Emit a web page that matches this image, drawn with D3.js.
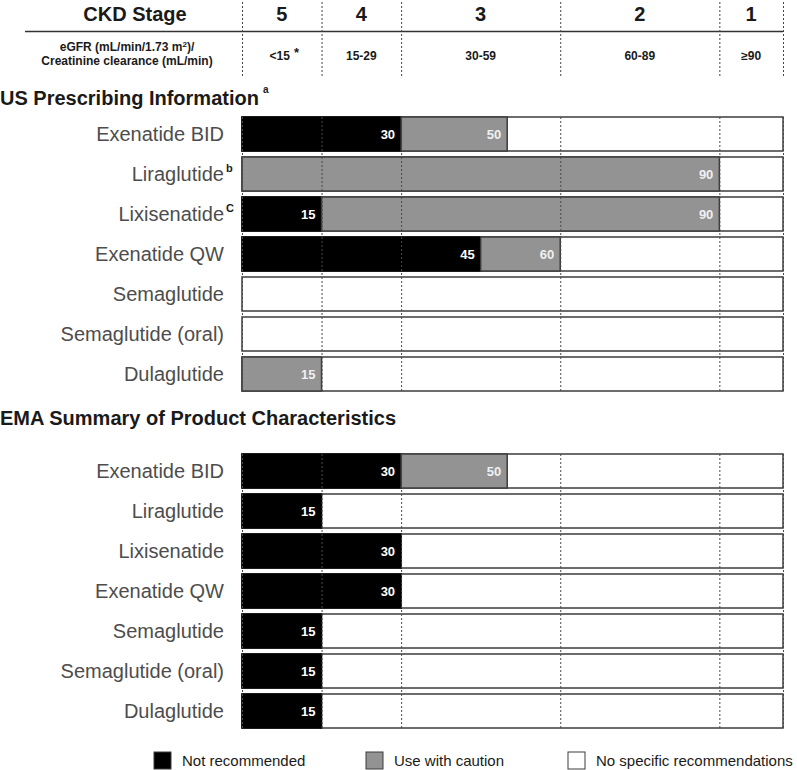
<!DOCTYPE html>
<html>
<head>
<meta charset="utf-8">
<script src="https://cdn.jsdelivr.net/npm/d3@7"></script>
<style>
  body { margin: 0; background: #fff; }
  svg { display: block; font-family: "Liberation Sans", Arial, sans-serif; }
</style>
</head>
<body>
<svg id="chart" width="797" height="770"></svg>
<script>
// ---------- data ----------
const drugs = ["Exenatide BID", "Liraglutide", "Lixisenatide", "Exenatide QW", "Semaglutide", "Semaglutide (oral)", "Dulaglutide"];
const usSuperscripts = ["", "b", "C", "", "", "", ""];
const usNotRecommended = [30, 0, 15, 45, 0, 0, 0];      // upper bound of "Not recommended"
const usCaution = [50, 90, 90, 60, 0, 0, 15];            // upper bound of "Use with caution"
const emaNotRecommended = [30, 15, 30, 30, 15, 15, 15];
const emaCaution = [50, 0, 0, 0, 0, 0, 0];
const stageBounds = [0, 15, 30, 60, 90, 102];
const stageLabels = ["5", "4", "3", "2", "1"];
const stageRanges = ["<15", "15-29", "30-59", "60-89", "≥90"];
const legendLabels = ["Not recommended", "Use with caution", "No specific recommendations"];
const sectionTitles = ["US Prescribing Information", "EMA Summary of Product Characteristics"];

// ---------- styles ----------
const BLACK = "#000000", GRAY = "#939393", WHITE = "#ffffff", OUTLINE = "#3c3c3c";
const legendColors = [BLACK, GRAY, WHITE];

const svg = d3.select("#chart");
const x = d3.scaleLinear().domain([0, 102]).range([242, 783]);

// ---------- header ----------
svg.append("text").attr("x", 135).attr("y", 21).attr("text-anchor", "middle")
  .attr("font-size", 20).attr("font-weight", "bold").attr("fill", "#1a1a1a").text("CKD Stage");

svg.append("line").attr("x1", 25).attr("x2", x(102)).attr("y1", 31.5).attr("y2", 31.5)
  .attr("stroke", "#333").attr("stroke-width", 1.5);

const sub = svg.append("text").attr("text-anchor", "middle").attr("font-size", 12)
  .attr("font-weight", "bold").attr("fill", "#1a1a1a");
const l1 = sub.append("tspan").attr("x", 127).attr("y", 51);
l1.append("tspan").text("eGFR (mL/min/1.73 m");
l1.append("tspan").attr("font-size", 8).attr("dy", -4).text("2");
l1.append("tspan").attr("dy", 4).text(")/");
sub.append("tspan").attr("x", 127).attr("y", 65).text("Creatinine clearance (mL/min)");

stageLabels.forEach((s, i) => {
  const cx = (x(stageBounds[i]) + x(stageBounds[i + 1])) / 2;
  svg.append("text").attr("x", cx).attr("y", 21).attr("text-anchor", "middle")
    .attr("font-size", 20).attr("font-weight", "bold").attr("fill", "#1a1a1a").text(s);
  svg.append("text").attr("x", i === 0 ? cx - 2 : cx).attr("y", 60).attr("text-anchor", "middle")
    .attr("font-size", 12).attr("font-weight", "bold").attr("fill", "#1a1a1a").text(stageRanges[i]);
});
// asterisk after <15
svg.append("text").attr("x", 294).attr("y", 57).attr("font-size", 13)
  .attr("font-weight", "bold").attr("fill", "#1a1a1a").text("*");

// header dashed lines
const headerAxis = d3.axisBottom(x).tickValues(stageBounds).tickSize(-76).tickFormat("");
const hg = svg.append("g").attr("transform", "translate(0,76)").call(headerAxis);
hg.select(".domain").remove();
hg.selectAll(".tick line").attr("stroke", "#444").attr("stroke-dasharray", "2,2");

// ---------- sections ----------
function drawSection(top, title, titleY, notRec, caution, sups, titleSup) {
  const t = svg.append("text").attr("x", 0).attr("y", titleY).attr("font-size", 20)
    .attr("font-weight", "bold").attr("fill", "#1a1a1a").text(title);
  if (titleSup) {
    const bb = t.node().getBBox();
    svg.append("text").attr("x", bb.x + bb.width + 4).attr("y", titleY - 12)
      .attr("font-size", 10).attr("font-weight", "bold").attr("fill", "#1a1a1a").text(titleSup);
  }
  const y = d3.scaleBand().domain(drugs).range([top, top + 274]).paddingInner(0.15).paddingOuter(0);
  const g = svg.append("g");

  drugs.forEach((d, i) => {
    const y0 = y(d), h = y.bandwidth();
    // full row (no specific recommendations)
    g.append("rect").attr("x", x(0)).attr("y", y0).attr("width", x(102) - x(0)).attr("height", h)
      .attr("fill", WHITE).attr("stroke", OUTLINE).attr("stroke-width", 1.5);
    const segs = [];
    if (notRec[i] > 0) segs.push({ a: 0, b: notRec[i], fill: BLACK });
    if (caution[i] > 0) segs.push({ a: notRec[i], b: caution[i], fill: GRAY });
    segs.forEach(s => {
      g.append("rect").attr("x", x(s.a)).attr("y", y0).attr("width", x(s.b) - x(s.a)).attr("height", h)
        .attr("fill", s.fill).attr("stroke", s.fill === BLACK ? BLACK : OUTLINE).attr("stroke-width", 1.5);
    });
    // label
    svg.append("text").attr("x", 224).attr("y", y0 + h / 2 + 7).attr("text-anchor", "end")
      .attr("font-size", 20).attr("fill", "#4d4d4d").text(d);
    if (sups && sups[i]) {
      svg.append("text").attr("x", 226).attr("y", y0 + 15).attr("font-size", 11)
        .attr("font-weight", "bold").attr("fill", "#1a1a1a").text(sups[i]);
    }
    segs.forEach(s => {
      valueTexts.push({ x: x(s.b) - 6, y: y0 + h / 2 + 4.5, v: s.b, gray: s.fill === GRAY });
    });
  });

  const gridAxis = d3.axisBottom(x).tickValues(stageBounds).tickSize(-274).tickFormat("");
  const gg = svg.append("g").attr("transform", `translate(0,${top + 274})`).call(gridAxis);
  gg.select(".domain").remove();
  gg.selectAll(".tick line").attr("stroke", "#4a4a4a").attr("stroke-dasharray", "2,2");
}

const valueTexts = [];
drawSection(117, sectionTitles[0], 105, usNotRecommended, usCaution, usSuperscripts, "a");
drawSection(454, sectionTitles[1], 425, emaNotRecommended, emaCaution, null, null);

svg.append("g").selectAll("text").data(valueTexts).join("text")
  .attr("x", d => d.x).attr("y", d => d.y).attr("text-anchor", "end")
  .attr("font-size", 13).attr("font-weight", "bold")
  .attr("fill", d => d.gray ? "#f0f0f0" : "#fff").text(d => d.v);

// ---------- legend ----------
const legendX = [154, 366, 568];
const lg = svg.append("g");
legendLabels.forEach((l, i) => {
  lg.append("rect").attr("x", legendX[i]).attr("y", 752).attr("width", 17).attr("height", 17)
    .attr("fill", legendColors[i]).attr("stroke", OUTLINE).attr("stroke-width", 1);
  lg.append("text").attr("x", legendX[i] + 28).attr("y", 766).attr("font-size", 15)
    .attr("fill", "#1a1a1a").text(l);
});
</script>
</body>
</html>
